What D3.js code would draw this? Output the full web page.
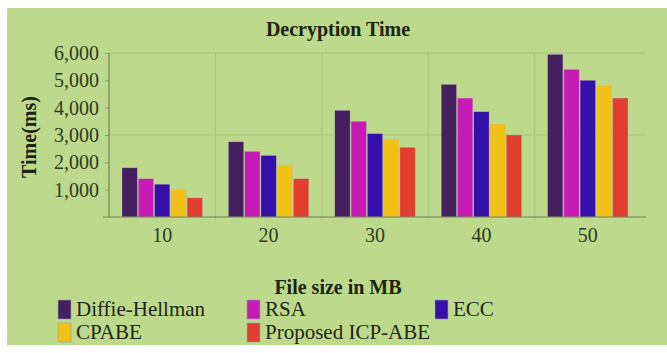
<!DOCTYPE html>
<html>
<head>
<meta charset="utf-8">
<script src="https://cdn.jsdelivr.net/npm/d3@7"></script>
<style>
  body { margin: 0; background: #fff; }
  svg, svg text { font-family: "Liberation Serif", "Times New Roman", "DejaVu Serif", serif; }
</style>
</head>
<body>
<div id="chart"></div>
<script>
// data
var fileSizes = ["10", "20", "30", "40", "50"];
var seriesNames = ["Diffie-Hellman", "RSA", "ECC", "CPABE", "Proposed ICP-ABE"];
var diffieHellman = [1800, 2750, 3900, 4850, 5950];
var rsa = [1400, 2400, 3500, 4350, 5400];
var ecc = [1200, 2250, 3050, 3850, 5000];
var cpabe = [1000, 1900, 2850, 3400, 4800];
var icpAbe = [700, 1400, 2550, 3000, 4350];
var yTicks = [1000, 2000, 3000, 4000, 5000, 6000];
var gridTicks = [3000, 6000];

var colors = ["#44205f", "#c71bb5", "#3411a9", "#f2c116", "#e03f2f"];
var seriesValues = [diffieHellman, rsa, ecc, cpabe, icpAbe];
var serif = '"Liberation Serif", "Times New Roman", "DejaVu Serif", serif';

var width = 667, height = 353;
var margin = {top: 53, right: 26, bottom: 136, left: 109};
var w = width - margin.left - margin.right,
    h = height - margin.top - margin.bottom;

var svg = d3.select("#chart").append("svg")
    .attr("width", width)
    .attr("height", height);

// green panel
svg.append("rect")
    .attr("x", 7).attr("y", 8)
    .attr("width", width - 7).attr("height", 337)
    .attr("fill", "#bdd98c");

var g = svg.append("g")
    .attr("transform", "translate(" + margin.left + "," + margin.top + ")");

var x0 = d3.scaleBand().domain(fileSizes).range([0, w]).padding(0);
var x1 = d3.scaleBand().domain(seriesNames)
    .range([13, x0.bandwidth() - 13]).paddingInner(0.06);
var y = d3.scaleLinear().domain([0, 6000]).range([h, 0]);

// horizontal grid
g.selectAll(".hgrid").data(gridTicks).enter().append("line")
    .attr("x1", 0).attr("x2", w + 5)
    .attr("y1", function(d) { return y(d); })
    .attr("y2", function(d) { return y(d); })
    .attr("stroke", "#a6c37c").attr("stroke-width", 1);

// vertical grid between groups
g.selectAll(".vgrid").data(fileSizes.slice(1)).enter().append("line")
    .attr("x1", function(d) { return x0(d); })
    .attr("x2", function(d) { return x0(d); })
    .attr("y1", 0).attr("y2", h + 4)
    .attr("stroke", "#a6c37c").attr("stroke-width", 1);

// bars
var groups = g.selectAll(".grp").data(fileSizes).enter().append("g")
    .attr("transform", function(d) { return "translate(" + x0(d) + ",0)"; });

groups.selectAll("rect")
    .data(function(d, i) {
        return seriesNames.map(function(s, k) { return {s: s, k: k, v: seriesValues[k][i]}; });
    })
    .enter().append("rect")
    .attr("x", function(d) { return x1(d.s); })
    .attr("y", function(d) { return y(d.v); })
    .attr("width", x1.bandwidth())
    .attr("height", function(d) { return h - y(d.v); })
    .attr("fill", function(d) { return colors[d.k]; })
    .attr("stroke", "#c9b9c9").attr("stroke-width", 0.5).attr("stroke-opacity", 0.6);

// y axis
var yAxis = g.append("g")
    .call(d3.axisLeft(y).tickValues(yTicks).tickFormat(d3.format(",")).tickSize(4).tickPadding(6));
yAxis.attr("font-family", null);
yAxis.select(".domain").remove();
yAxis.selectAll("line").attr("stroke", "#8da06a");
yAxis.selectAll("text")
    .style("font-family", serif)
    .style("font-size", "20px")
    .attr("fill", "#2e3b22");
g.append("line")
    .attr("x1", 0).attr("x2", 0).attr("y1", 0).attr("y2", h)
    .attr("stroke", "#6e8450").attr("stroke-width", 1.2);

// x axis
var xAxis = g.append("g")
    .attr("transform", "translate(0," + h + ")")
    .call(d3.axisBottom(x0).tickSize(0).tickPadding(11));
xAxis.attr("font-family", null);
xAxis.select(".domain").remove();
xAxis.selectAll("text")
    .style("font-family", serif)
    .style("font-size", "20px")
    .attr("fill", "#2e3b22");
g.append("line")
    .attr("x1", -6).attr("x2", w + 5).attr("y1", h).attr("y2", h)
    .attr("stroke", "#6e8450").attr("stroke-width", 1.2);

// titles
svg.append("text")
    .attr("x", 338).attr("y", 36)
    .attr("text-anchor", "middle")
    .style("font-family", serif)
    .style("font-size", "20px").style("font-weight", "bold")
    .attr("fill", "#1c2414")
    .text("Decryption Time");

svg.append("text")
    .attr("transform", "translate(36,137) rotate(-90)")
    .attr("text-anchor", "middle")
    .style("font-family", serif)
    .style("font-size", "20px").style("font-weight", "bold")
    .attr("fill", "#1c2414")
    .text("Time(ms)");

svg.append("text")
    .attr("x", 338).attr("y", 294)
    .attr("text-anchor", "middle")
    .style("font-family", serif)
    .style("font-size", "20px").style("font-weight", "bold")
    .attr("fill", "#1c2414")
    .text("File size in MB");

// legend
var legX = [58, 247, 435];
var legend = svg.selectAll(".leg").data(seriesNames).enter().append("g")
    .attr("transform", function(d, i) {
        return "translate(" + legX[i % 3] + "," + (300 + Math.floor(i / 3) * 23) + ")";
    });
legend.append("rect")
    .attr("width", 13).attr("height", 19)
    .attr("fill", function(d, i) { return colors[i]; })
    .attr("stroke", "#9aa2a0").attr("stroke-width", 0.6);
legend.append("text")
    .attr("x", 18).attr("y", 16)
    .style("font-family", serif)
    .style("font-size", "21px")
    .attr("fill", "#1e2617")
    .text(function(d) { return d; });
</script>
</body>
</html>
